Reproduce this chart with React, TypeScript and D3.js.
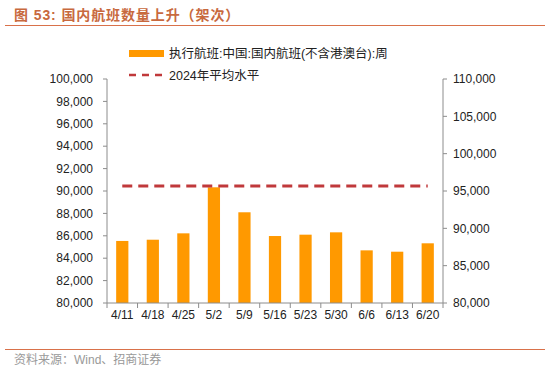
import React from "react";
import * as d3 from "d3";

const categories = ["4/11", "4/18", "4/25", "5/2", "5/9", "5/16", "5/23", "5/30", "6/6", "6/13", "6/20"];
const flights = [85540, 85650, 86220, 90330, 88100, 85980, 86100, 86310, 84700, 84580, 85330];
const avg2024 = 90450;
const leftTicks = [80000, 82000, 84000, 86000, 88000, 90000, 92000, 94000, 96000, 98000, 100000];
const rightTicks = [80000, 85000, 90000, 95000, 100000, 105000, 110000];
const seriesNames = ["执行航班:中国:国内航班(不含港澳台):周", "2024年平均水平"];

const W = 550, H = 379;
const left = 107, right = 443, top = 79, bottom = 303;
const FONT = "'Liberation Sans', Arial, 'Noto Sans CJK SC', sans-serif";
const AXIS = "#8c8c8c";
const BAR = "#FF9900";
const RED = "#C0393B";

export default function App() {
  const x = d3.scaleBand<string>().domain(categories).range([left, right]).paddingInner(0.6).paddingOuter(0.3);
  const xb = d3.scaleBand<string>().domain(categories).range([left, right]);
  const y = d3.scaleLinear().domain([80000, 100000]).range([bottom, top]);
  const y2 = d3.scaleLinear().domain([80000, 110000]).range([bottom, top]);
  const fmt = d3.format(",");
  const c0 = xb(categories[0])! + xb.bandwidth() / 2;
  const cN = xb(categories[categories.length - 1])! + xb.bandwidth() / 2;

  return (
    <svg width={W} height={H} style={{ position: "absolute", left: 0, top: 0, background: "#fff" }} fontFamily={FONT}>
      <text x={14} y={20} fontSize={14} fontWeight="bold" fill="#C8693E" letterSpacing={0.9}>图 53:  国内航班数量上升（架次）</text>
      <line x1={5} x2={545} y1={25.5} y2={25.5} stroke="#D9714A" strokeWidth={1.2} />

      {/* legend */}
      <rect x={129} y={50} width={35} height={7} fill={BAR} />
      <text x={169} y={58} fontSize={12.5} fill="#222">{seriesNames[0]}</text>
      <line x1={129} x2={167} y1={75} y2={75} stroke={RED} strokeWidth={2.5} strokeDasharray="7,6" />
      <text x={169} y={80} fontSize={12.5} fill="#222">{seriesNames[1]}</text>

      {/* bars */}
      {categories.map((c, i) => (
        <rect key={c} x={x(c)} y={y(flights[i])} width={x.bandwidth()} height={bottom - y(flights[i])} fill={BAR} />
      ))}

      {/* average line */}
      <line x1={c0} x2={cN} y1={y(avg2024)} y2={y(avg2024)} stroke={RED} strokeWidth={3} strokeDasharray="10,6" />

      {/* left axis */}
      <line x1={left} x2={left} y1={top} y2={bottom} stroke={AXIS} />
      {leftTicks.map((t) => (
        <g key={t}>
          <line x1={left - 4} x2={left} y1={y(t)} y2={y(t)} stroke={AXIS} />
          <text x={93} y={y(t)} dy="0.35em" textAnchor="end" fontSize={12} fill="#222">{fmt(t)}</text>
        </g>
      ))}

      {/* right axis */}
      <line x1={right} x2={right} y1={top} y2={bottom} stroke={AXIS} />
      {rightTicks.map((t) => (
        <g key={t}>
          <line x1={right} x2={right + 4} y1={y2(t)} y2={y2(t)} stroke={AXIS} />
          <text x={453} y={y2(t)} dy="0.35em" textAnchor="start" fontSize={12} fill="#222">{fmt(t)}</text>
        </g>
      ))}

      {/* x axis */}
      <line x1={left} x2={right} y1={bottom} y2={bottom} stroke={AXIS} />
      {categories.map((c) => (
        <line key={"t" + c} x1={xb(c)} x2={xb(c)} y1={bottom} y2={bottom + 5} stroke={AXIS} />
      ))}
      <line x1={right} x2={right} y1={bottom} y2={bottom + 5} stroke={AXIS} />
      {categories.map((c) => (
        <text key={"l" + c} x={xb(c)! + xb.bandwidth() / 2} y={319} textAnchor="middle" fontSize={12} fill="#222">{c}</text>
      ))}

      <line x1={5} x2={545} y1={349.5} y2={349.5} stroke="#D9714A" strokeWidth={1.2} />
      <text x={14} y={364} fontSize={12} fill="#999">资料来源：Wind、招商证券</text>
    </svg>
  );
}
